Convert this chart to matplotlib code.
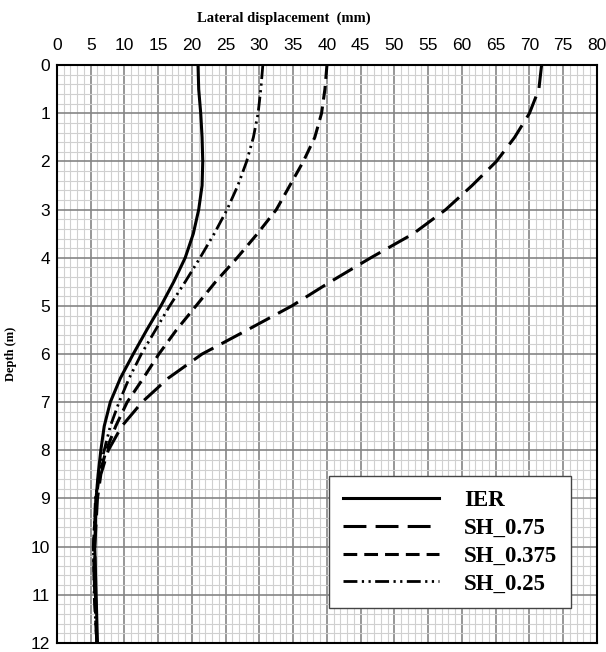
import numpy as np
import matplotlib.pyplot as plt
from matplotlib.ticker import MultipleLocator

# Depth (m) and lateral displacement (mm)
depth = [0, 0.5, 1, 1.5, 2, 2.5, 3, 3.5, 4, 4.5, 5, 5.5, 6, 6.5, 7, 7.5, 8, 8.5, 9, 10, 11, 12]

ier = [20.9, 21.0, 21.3, 21.5, 21.6, 21.5, 21.0, 20.2, 19.0, 17.3, 15.4, 13.3, 11.3, 9.4, 7.9, 7.0,
       6.5, 6.1, 5.8, 5.6, 5.8, 6.0]
sh_075 = [71.8, 71.4, 70.0, 67.8, 65.1, 61.5, 57.6, 52.8, 46.5, 40.5, 34.8, 28.2, 21.5, 16.5, 12.6,
          9.6, 7.6, 6.5, 6.0, 5.6, 5.7, 5.9]
sh_0375 = [40.0, 39.7, 39.2, 38.2, 36.5, 34.5, 32.5, 29.7, 26.7, 23.5, 20.6, 17.7, 15.1, 12.8, 10.4,
           8.7, 7.3, 6.3, 5.8, 5.4, 5.6, 5.9]
sh_025 = [30.5, 30.2, 29.8, 29.1, 28.1, 26.8, 25.2, 23.3, 21.2, 19.0, 16.7, 14.6, 12.5, 10.7, 9.2,
          7.9, 7.0, 6.2, 5.7, 5.4, 5.5, 5.9]

fig = plt.figure(figsize=(6.06, 6.52), dpi=100)
ax = fig.add_axes([0.094, 0.014, 0.891, 0.886])

ax.plot(ier, depth, color='black', lw=2.2, ls='-', label='IER')
ax.plot(sh_075, depth, color='black', lw=2.2, ls=(0, (7.5, 3)), label='SH_0.75')
ax.plot(sh_0375, depth, color='black', lw=2.2, ls=(0, (4.5, 2.3)), label='SH_0.375')
ax.plot(sh_025, depth, color='black', lw=2.0, ls=(0, (5, 1.6, 0.8, 1.6, 0.8, 1.6)), label='SH_0.25')

ax.set_xlim(0, 80)
ax.set_ylim(12, 0)
ax.xaxis.set_major_locator(MultipleLocator(5))
ax.xaxis.set_minor_locator(MultipleLocator(1))
ax.yaxis.set_major_locator(MultipleLocator(1))
ax.yaxis.set_minor_locator(MultipleLocator(0.2))
ax.xaxis.tick_top()
ax.xaxis.set_label_position('top')
ax.grid(which='minor', color='#d0d0d0', lw=0.8)
ax.grid(which='major', color='#858585', lw=1.2)
ax.set_axisbelow(True)
ax.tick_params(which='both', length=0, labelsize=12.5)
ax.tick_params(axis='x', pad=9)
ax.tick_params(axis='y', pad=5)
for lab in ax.get_xticklabels() + ax.get_yticklabels():
    lab.set_family('Liberation Sans')
for s in ax.spines.values():
    s.set_linewidth(1.5)

ax.set_xlabel('Lateral displacement  (mm)', family='Liberation Serif', fontweight='bold',
              fontsize=10.5)
ax.xaxis.set_label_coords(0.42, 1.075)
ax.set_ylabel('Depth (m)', family='Liberation Serif', fontweight='bold', fontsize=9, labelpad=10)

leg = ax.legend(loc='lower right', bbox_to_anchor=(0.952, 0.06), fancybox=False, framealpha=1,
                edgecolor='#444444', handlelength=4.2, handletextpad=1.1, borderpad=0.6,
                labelspacing=0.3, borderaxespad=0,
                prop={'family': 'Liberation Serif', 'weight': 'bold', 'size': 16.5})
leg.get_frame().set_linewidth(1.0)

fig.savefig('out.png', dpi=100)
